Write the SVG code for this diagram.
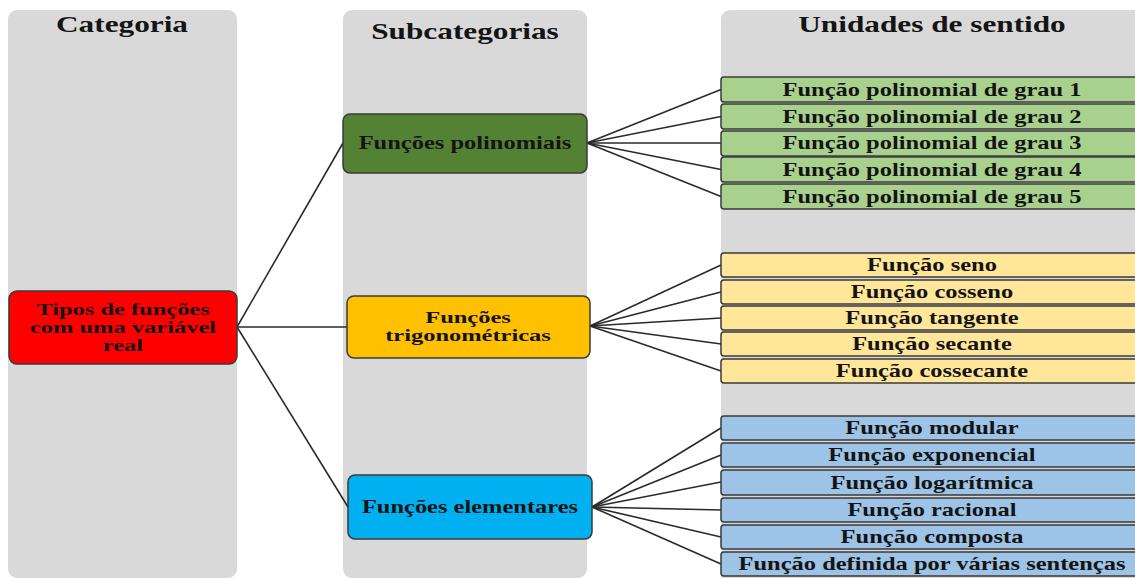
<svg xmlns="http://www.w3.org/2000/svg" width="1135" height="578" viewBox="0 0 1135 578">
  <style>
    .col { fill: #d9d9d9; }
    .t { font-family: "Liberation Serif", "Times New Roman", serif; font-weight: bold; font-size: 18px; fill: #141414; text-anchor: middle; }
    .tm { font-family: "Liberation Serif", "Times New Roman", serif; font-weight: bold; font-size: 16px; fill: #141414; text-anchor: middle; }
    .h { font-family: "Liberation Serif", "Times New Roman", serif; font-weight: bold; font-size: 23px; fill: #141414; text-anchor: middle; }
    .box { stroke: #3a3a3a; stroke-width: 1.5; }
    .main { fill: #ff0000; }
    .poly { fill: #548235; }
    .trig { fill: #ffc000; }
    .elem { fill: #00b0f0; }
    .upoly { fill: #a9d18e; }
    .utrig { fill: #ffe699; }
    .uelem { fill: #9dc3e6; }
    .link { stroke: #2a2a2a; stroke-width: 1.6; fill: none; }
  </style>

  <!-- column backgrounds -->
  <g id="columns">
    <rect class="col" x="8" y="10" width="229" height="568" rx="9"/>
    <rect class="col" x="343" y="10" width="244" height="568" rx="9"/>
    <rect class="col" x="721" y="10" width="430" height="580" rx="9"/>
    <text class="h" transform="translate(122,32) scale(1.36,1)">Categoria</text>
    <text class="h" transform="translate(465,39) scale(1.36,1)">Subcategorias</text>
    <text class="h" transform="translate(932,32) scale(1.36,1)">Unidades de sentido</text>
  </g>

  <!-- connectors -->
  <g id="connectors">
    <line class="link" x1="237" y1="327" x2="343" y2="143"/>
    <line class="link" x1="237" y1="327" x2="347" y2="327"/>
    <line class="link" x1="237" y1="327" x2="348" y2="507"/>

    <line class="link" x1="587" y1="143" x2="721" y2="89.5"/>
    <line class="link" x1="587" y1="143" x2="721" y2="116.5"/>
    <line class="link" x1="587" y1="143" x2="721" y2="143"/>
    <line class="link" x1="587" y1="143" x2="721" y2="169.5"/>
    <line class="link" x1="587" y1="143" x2="721" y2="196.5"/>

    <line class="link" x1="590" y1="326" x2="721" y2="265"/>
    <line class="link" x1="590" y1="326" x2="721" y2="292"/>
    <line class="link" x1="590" y1="326" x2="721" y2="318"/>
    <line class="link" x1="590" y1="326" x2="721" y2="344"/>
    <line class="link" x1="590" y1="326" x2="721" y2="371"/>

    <line class="link" x1="592" y1="507" x2="721" y2="428"/>
    <line class="link" x1="592" y1="507" x2="721" y2="455"/>
    <line class="link" x1="592" y1="507" x2="721" y2="482"/>
    <line class="link" x1="592" y1="507" x2="721" y2="510"/>
    <line class="link" x1="592" y1="507" x2="721" y2="537"/>
    <line class="link" x1="592" y1="507" x2="721" y2="564"/>
  </g>

  <!-- category -->
  <g id="node-categoria">
    <rect class="box main" x="9" y="291" width="228" height="73" rx="8"/>
    <text class="tm" transform="translate(123,314.5) scale(1.53,1)">Tipos de funções</text>
    <text class="tm" transform="translate(123,332.5) scale(1.53,1)">com uma variável</text>
    <text class="tm" transform="translate(123,350.5) scale(1.53,1)">real</text>
  </g>

  <!-- subcategories -->
  <g id="node-polinomiais">
    <rect class="box poly" x="343" y="114" width="244" height="59" rx="7"/>
    <text class="t" transform="translate(465,149) scale(1.36,1)">Funções polinomiais</text>
  </g>
  <g id="node-trigonometricas">
    <rect class="box trig" x="347" y="296" width="243" height="62" rx="7"/>
    <text class="tm" transform="translate(468,323) scale(1.53,1)">Funções</text>
    <text class="tm" transform="translate(468,341) scale(1.53,1)">trigonométricas</text>
  </g>
  <g id="node-elementares">
    <rect class="box elem" x="348" y="475" width="244" height="64" rx="7"/>
    <text class="t" transform="translate(470,513) scale(1.36,1)">Funções elementares</text>
  </g>

  <!-- polynomial units -->
  <g id="node-grau1">
    <rect class="box upoly" x="721" y="77" width="430" height="25" rx="3"/>
    <text class="t" transform="translate(932,96) scale(1.36,1)">Função polinomial de grau 1</text>
  </g>
  <g id="node-grau2">
    <rect class="box upoly" x="721" y="104" width="430" height="25" rx="3"/>
    <text class="t" transform="translate(932,123) scale(1.36,1)">Função polinomial de grau 2</text>
  </g>
  <g id="node-grau3">
    <rect class="box upoly" x="721" y="131" width="430" height="25" rx="3"/>
    <text class="t" transform="translate(932,149) scale(1.36,1)">Função polinomial de grau 3</text>
  </g>
  <g id="node-grau4">
    <rect class="box upoly" x="721" y="157" width="430" height="25" rx="3"/>
    <text class="t" transform="translate(932,176) scale(1.36,1)">Função polinomial de grau 4</text>
  </g>
  <g id="node-grau5">
    <rect class="box upoly" x="721" y="184" width="430" height="25" rx="3"/>
    <text class="t" transform="translate(932,203) scale(1.36,1)">Função polinomial de grau 5</text>
  </g>

  <!-- trigonometric units -->
  <g id="node-seno">
    <rect class="box utrig" x="721" y="253" width="430" height="24" rx="3"/>
    <text class="t" transform="translate(932,271) scale(1.36,1)">Função seno</text>
  </g>
  <g id="node-cosseno">
    <rect class="box utrig" x="721" y="280" width="430" height="24" rx="3"/>
    <text class="t" transform="translate(932,298) scale(1.36,1)">Função cosseno</text>
  </g>
  <g id="node-tangente">
    <rect class="box utrig" x="721" y="306" width="430" height="24" rx="3"/>
    <text class="t" transform="translate(932,324) scale(1.36,1)">Função tangente</text>
  </g>
  <g id="node-secante">
    <rect class="box utrig" x="721" y="332" width="430" height="24" rx="3"/>
    <text class="t" transform="translate(932,350) scale(1.36,1)">Função secante</text>
  </g>
  <g id="node-cossecante">
    <rect class="box utrig" x="721" y="359" width="430" height="24" rx="3"/>
    <text class="t" transform="translate(932,377) scale(1.36,1)">Função cossecante</text>
  </g>

  <!-- elementary units -->
  <g id="node-modular">
    <rect class="box uelem" x="721" y="416" width="430" height="24" rx="3"/>
    <text class="t" transform="translate(932,434) scale(1.36,1)">Função modular</text>
  </g>
  <g id="node-exponencial">
    <rect class="box uelem" x="721" y="443" width="430" height="24" rx="3"/>
    <text class="t" transform="translate(932,461) scale(1.36,1)">Função exponencial</text>
  </g>
  <g id="node-logaritmica">
    <rect class="box uelem" x="721" y="470" width="430" height="25" rx="3"/>
    <text class="t" transform="translate(932,489) scale(1.36,1)">Função logarítmica</text>
  </g>
  <g id="node-racional">
    <rect class="box uelem" x="721" y="498" width="430" height="24" rx="3"/>
    <text class="t" transform="translate(932,516) scale(1.36,1)">Função racional</text>
  </g>
  <g id="node-composta">
    <rect class="box uelem" x="721" y="525" width="430" height="24" rx="3"/>
    <text class="t" transform="translate(932,543) scale(1.36,1)">Função composta</text>
  </g>
  <g id="node-varias-sentencas">
    <rect class="box uelem" x="721" y="552" width="430" height="24" rx="3"/>
    <text class="t" transform="translate(932,570) scale(1.36,1)">Função definida por várias sentenças</text>
  </g>
</svg>
